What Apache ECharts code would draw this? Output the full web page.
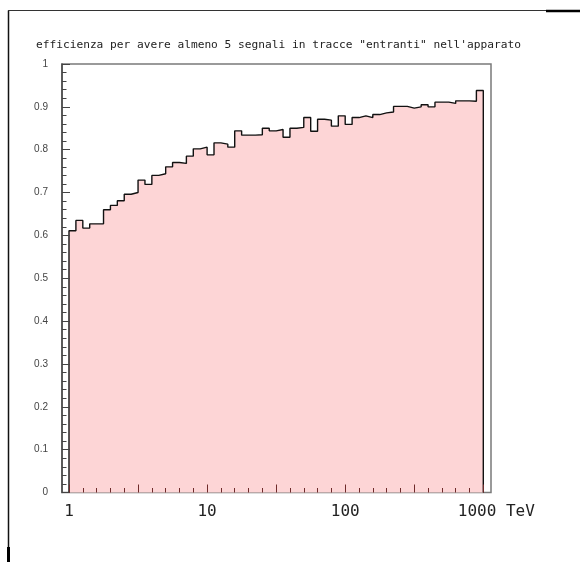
<!DOCTYPE html>
<html>
<head>
<meta charset="utf-8">
<script src="https://cdn.jsdelivr.net/npm/echarts@6/dist/echarts.min.js"></script>
<style>
html,body{margin:0;padding:0;background:#fff;}
#c{width:580px;height:562px;}
</style>
</head>
<body>
<div id="c"></div>
<script>
// log10(E/TeV) bins: 60 bins of width 0.05 from 0 to 3
var binWidth = 0.05;
var efficiency = [
  0.611, 0.635, 0.617, 0.627, 0.627, 0.660, 0.670, 0.681, 0.696, 0.700,
  0.729, 0.719, 0.740, 0.744, 0.760, 0.770, 0.768, 0.785, 0.802, 0.806,
  0.788, 0.816, 0.813, 0.806, 0.844, 0.834, 0.834, 0.835, 0.850, 0.844,
  0.847, 0.829, 0.850, 0.852, 0.875, 0.843, 0.871, 0.869, 0.855, 0.879,
  0.859, 0.875, 0.879, 0.875, 0.882, 0.886, 0.888, 0.901, 0.901, 0.897,
  0.900, 0.905, 0.900, 0.911, 0.911, 0.908, 0.914, 0.914, 0.913, 0.938
];
var xTickLabels = {0: '1', 1: '10', 2: '100', 3: '1000 TeV'};
var titleText = 'efficienza per avere almeno 5 segnali in tracce "entranti" nell\'apparato';

var pts = [[0, 0]];
for (var i = 0; i < efficiency.length; i++) {
  pts.push([+(i * binWidth).toFixed(4), efficiency[i]]);
}
var xEnd = +(efficiency.length * binWidth).toFixed(4);
pts.push([xEnd, efficiency[efficiency.length - 1]]);
pts.push([xEnd, 0]);

var chart = echarts.init(document.getElementById('c'), null, {renderer: 'canvas'});
chart.setOption({
  animation: false,
  backgroundColor: '#fff',
  title: {
    text: titleText,
    left: 31,
    top: 35,
    textStyle: {fontFamily: 'DejaVu Sans Mono', fontSize: 11.2, fontWeight: 'normal', color: '#222'}
  },
  grid: [
    {left: 62, top: 64, width: 429, height: 428.5, show: true, borderColor: '#7a7a7a', borderWidth: 1.5, backgroundColor: 'transparent'},
    {left: 69, top: 64, width: 414.3, height: 428.5}
  ],
  xAxis: [
    {gridIndex: 0, type: 'value', min: 0, max: 1, show: false},
    {
      gridIndex: 1, type: 'value', min: 0, max: 3, interval: 0.5, z: 10,
      axisLine: {show: false},
      axisTick: {show: true, inside: true, length: 8, lineStyle: {color: '#6e2b2b', width: 1}},
      minorTick: {show: true, splitNumber: 5, length: 4.5, lineStyle: {color: '#6e2b2b', width: 1}},
      splitLine: {show: false},
      axisLabel: {
        margin: 11,
        fontFamily: 'DejaVu Sans Mono', fontSize: 16, color: '#222',
        formatter: function (v) {
          var k = Math.round(v * 2) / 2;
          if (k === 3) return '{u|' + xTickLabels[3] + '}';
          return xTickLabels.hasOwnProperty(k) ? xTickLabels[k] : '';
        },
        rich: {u: {fontFamily: 'DejaVu Sans Mono', fontSize: 16, color: '#222', padding: [0, 0, 0, 26]}}
      }
    }
  ],
  yAxis: [
    {
      gridIndex: 0, type: 'value', min: 0, max: 1, interval: 0.1, z: 10,
      axisLine: {show: true, lineStyle: {color: '#444', width: 1.5}},
      axisTick: {show: true, inside: true, length: 8, lineStyle: {color: '#444', width: 1}},
      minorTick: {show: true, splitNumber: 5, length: 4.5, lineStyle: {color: '#444', width: 1}},
      splitLine: {show: false},
      axisLabel: {margin: 14, fontFamily: 'Liberation Sans', fontSize: 10, color: '#444'}
    },
    {gridIndex: 1, type: 'value', min: 0, max: 1, show: false}
  ],
  series: [{
    type: 'line',
    xAxisIndex: 1, yAxisIndex: 1,
    step: 'end',
    symbol: 'none',
    z: 2,
    lineStyle: {color: '#111', width: 1.4},
    areaStyle: {color: '#fdd5d6', opacity: 1},
    data: pts
  }],
  graphic: [
    {type: 'line', shape: {x1: 8.5, y1: 10.5, x2: 8.5, y2: 562}, style: {stroke: '#111', lineWidth: 1.5}, silent: true},
    {type: 'line', shape: {x1: 8.5, y1: 547, x2: 8.5, y2: 562}, style: {stroke: '#000', lineWidth: 3}, silent: true},
    {type: 'line', shape: {x1: 8, y1: 10.5, x2: 546, y2: 10.5}, style: {stroke: '#333', lineWidth: 1}, silent: true},
    {type: 'line', shape: {x1: 546, y1: 11, x2: 580, y2: 11}, style: {stroke: '#000', lineWidth: 2.5}, silent: true}
  ]
});
</script>
</body>
</html>
